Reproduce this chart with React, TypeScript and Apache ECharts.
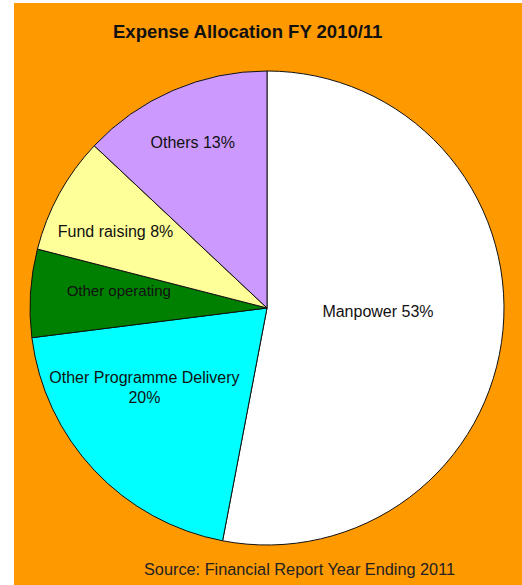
import React, { useEffect, useRef } from "react";
import * as echarts from "echarts";

const categories = ["Manpower", "Other Programme Delivery", "Other operating", "Fund raising", "Others"];
const values = [53, 20, 6, 8, 13];
const labelTexts = ["Manpower 53%", "Other Programme Delivery\n20%", "Other operating", "Fund raising 8%", "Others 13%"];
const colors = ["#FFFFFF", "#00FFFF", "#008000", "#FFFF99", "#CC99FF"];
const labelOffsets = [[-10, -8], [-34, -4], [-27, -10], [-45, -18], [-26, -54]];
const labelSizes = [16, 16, 15, 16, 16];

export default function App() {
  const ref = useRef<HTMLDivElement>(null);
  useEffect(() => {
    const chart = echarts.init(ref.current!, null, { renderer: "svg" });
    chart.setOption({
      animation: false,
      backgroundColor: "#FF9900",
      title: [
        {
          text: "Expense Allocation FY 2010/11",
          left: 94,
          top: 14,
          textStyle: { fontFamily: "Liberation Sans", fontSize: 18.5, fontWeight: "bold", color: "#111" },
        },
        {
          text: "Source: Financial Report Year Ending 2011",
          left: 125,
          top: 553,
          textStyle: { fontFamily: "Liberation Sans", fontSize: 16.3, fontWeight: "normal", color: "#222" },
        },
      ],
      series: [
        {
          type: "pie",
          center: [253, 305],
          radius: 237,
          startAngle: 90,
          clockwise: true,
          avoidLabelOverlap: false,
          itemStyle: { borderColor: "#111", borderWidth: 1 },
          label: {
            show: true,
            position: "inside",
            fontFamily: "Liberation Sans",
            color: "#111",
            lineHeight: 20,
          },
          labelLine: { show: false },
          emphasis: { disabled: true },
          data: categories.map((c, i) => ({
            name: c,
            value: values[i],
            itemStyle: { color: colors[i] },
            label: {
              formatter: labelTexts[i],
              offset: labelOffsets[i],
              fontSize: labelSizes[i],
            },
          })),
        },
      ],
    });
    return () => chart.dispose();
  }, []);
  return (
    <div style={{ position: "fixed", left: 0, top: 0, width: 522, height: 585, background: "#fff" }}>
      <div ref={ref} style={{ position: "absolute", left: 14, top: 3, width: 508, height: 582 }} />
    </div>
  );
}
